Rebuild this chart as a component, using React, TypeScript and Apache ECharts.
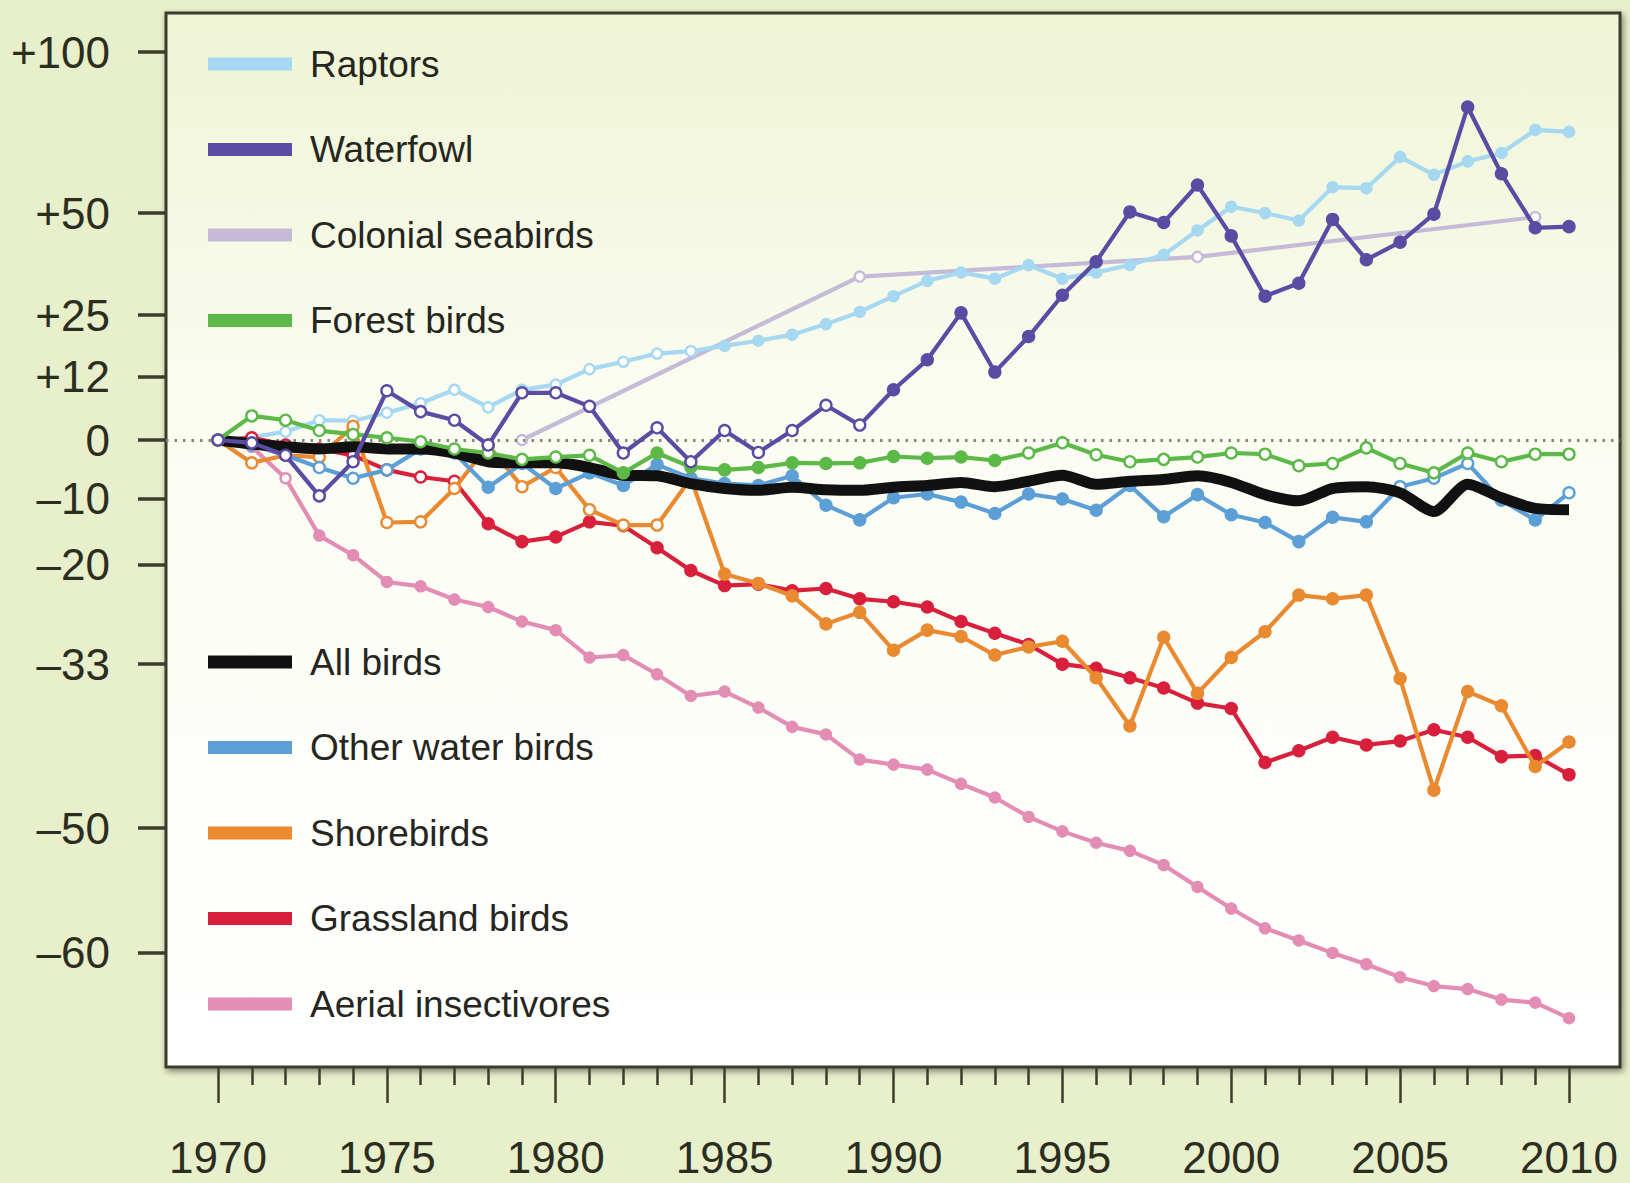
import React, { useEffect, useRef } from "react";
import * as echarts from "echarts";

// ---------- data (percent change since 1970) ----------
const years = [
  1970, 1971, 1972, 1973, 1974, 1975, 1976, 1977, 1978, 1979,
  1980, 1981, 1982, 1983, 1984, 1985, 1986, 1987, 1988, 1989,
  1990, 1991, 1992, 1993, 1994, 1995, 1996, 1997, 1998, 1999,
  2000, 2001, 2002, 2003, 2004, 2005, 2006, 2007, 2008, 2009, 2010,
];

const raptors = [
  0, 0.5, 1.5, 3.6, 3.5, 5.0, 6.8, 9.4, 6.0, 9.4,
  10.4, 13.5, 15.0, 16.7, 17.2, 18.3, 19.4, 20.7, 23.0, 25.7,
  29.3, 32.9, 34.9, 33.4, 36.7, 33.4, 34.9, 36.7, 39.2, 45.4,
  51.7, 50.0, 48.0, 57.1, 56.8, 65.8, 60.6, 64.5, 67.0, 74.0, 73.4,
];
const waterfowl = [
  0, -0.5, -2.7, -9.5, -3.8, 9.2, 5.2, 3.6, -0.9, 8.8,
  8.8, 6.2, -2.3, 2.2, -3.8, 1.7, -2.2, 1.7, 6.4, 2.7,
  9.4, 15.4, 25.5, 12.9, 20.3, 29.5, 37.5, 50.3, 47.5, 57.7,
  44.0, 29.3, 32.3, 48.3, 38.0, 42.4, 49.7, 81.3, 60.9, 46.1, 46.4,
];
const seabirdYears = [1979, 1989, 1999, 2009];
const seabirds = [0, 33.9, 38.7, 48.9];
const forest = [
  0, 4.4, 3.6, 1.7, 1.0, 0.4, -0.3, -1.6, -2.3, -3.4,
  -3.0, -2.7, -5.7, -2.3, -4.7, -5.2, -4.8, -4.0, -4.1, -4.0,
  -2.9, -3.2, -3.0, -3.6, -2.3, -0.5, -2.6, -3.8, -3.4, -3.0,
  -2.3, -2.5, -4.5, -4.1, -1.4, -4.1, -5.7, -2.3, -3.8, -2.5, -2.5,
];
const allBirds = [
  0, -0.7, -1.2, -1.6, -1.2, -1.6, -1.6, -2.3, -3.8, -4.0,
  -4.0, -4.8, -6.1, -6.2, -7.5, -8.3, -8.6, -8.1, -8.5, -8.6,
  -8.1, -7.8, -7.3, -8.0, -7.1, -6.1, -7.6, -7.1, -6.8, -6.2,
  -7.3, -9.3, -10.3, -8.3, -8.0, -9.0, -12.0, -7.6, -9.8, -11.5, -11.7,
];
const otherWater = [
  0, -0.9, -2.7, -4.8, -6.6, -5.2, -1.6, -2.3, -8.1, -4.1,
  -8.3, -5.7, -7.8, -4.3, -6.6, -7.5, -7.8, -6.2, -11.0, -13.3,
  -9.8, -9.2, -10.5, -12.3, -9.2, -10.0, -11.8, -7.8, -12.8, -9.3,
  -12.5, -13.7, -16.6, -12.9, -13.6, -8.0, -6.6, -4.1, -10.2, -13.3, -9.0,
];
const shorebirds = [
  0, -4.0, -2.7, -3.0, 2.5, -13.7, -13.6, -8.3, -0.9, -8.0,
  -4.8, -11.7, -14.1, -14.1, -6.6, -21.3, -22.6, -24.3, -28.0, -26.5,
  -31.3, -28.8, -29.6, -31.9, -30.9, -30.2, -34.6, -40.0, -29.7, -36.4,
  -32.2, -29.0, -24.2, -24.7, -24.2, -34.7, -46.5, -36.2, -37.8, -44.2, -41.7,
];
const grassland = [
  0, 0.4, -0.9, -1.6, -2.7, -5.2, -6.4, -7.1, -13.9, -16.6,
  -15.9, -13.6, -14.2, -17.5, -20.8, -22.9, -22.7, -23.6, -23.3, -24.7,
  -25.1, -25.8, -27.7, -29.2, -30.6, -33.0, -33.5, -34.6, -35.8, -37.5,
  -38.1, -43.8, -42.6, -41.2, -42.0, -41.6, -40.4, -41.2, -43.2, -43.1, -45.0,
];
const aerial = [
  0, -1.2, -6.6, -15.7, -18.6, -22.4, -23.0, -24.8, -25.8, -27.7,
  -28.8, -32.2, -31.9, -34.2, -36.7, -36.2, -38.0, -40.1, -40.9, -43.5,
  -44.0, -44.5, -45.9, -47.2, -49.0, -50.3, -51.3, -52.0, -53.2, -55.0,
  -56.7, -58.2, -59.1, -60.0, -60.8, -61.7, -62.3, -62.5, -63.2, -63.4, -64.4,
];

const yTickPercents = [100, 50, 25, 12, 0, -10, -20, -33, -50, -60];
const yTickLabels = ["+100", "+50", "+25", "+12", "0", "\u201310", "\u201320", "\u201333", "\u201350", "\u201360"];
const xMajorTicks = [1970, 1975, 1980, 1985, 1990, 1995, 2000, 2005, 2010];

const legendTop = ["Raptors", "Waterfowl", "Colonial seabirds", "Forest birds"];
const legendBottom = ["All birds", "Other water birds", "Shorebirds", "Grassland birds", "Aerial insectivores"];

// ---------- helpers ----------
const toLog = (p: number) => Math.log2(1 + p / 100);

const AXIS_COLOR = "#3b3e2c";
const LABEL_FONT = '"Liberation Sans", Arial, sans-serif';
const TEXT_FONT = '"Liberation Sans", Arial, sans-serif';

function inRanges(y: number, ranges: [number, number][]) {
  return ranges.some(([a, b]) => y >= a && y <= b);
}

function makeSeries(
  name: string,
  color: string,
  xs: number[],
  values: number[],
  hollow: [number, number][],
  z: number,
  extra: any = {}
) {
  return {
    name,
    type: "line",
    z,
    xAxisIndex: 0,
    yAxisIndex: 0,
    symbol: "circle",
    symbolSize: 11,
    showSymbol: true,
    lineStyle: { color, width: 4.2 },
    itemStyle: { color, borderColor: color, borderWidth: 2 },
    emphasis: { disabled: true },
    data: values.map((p, i) => ({
      value: [xs[i], toLog(p)],
      itemStyle: {
        color: inRanges(xs[i], hollow) ? "#ffffff" : color,
        borderColor: color,
        borderWidth: 2.4,
      },
    })),
    ...extra,
  };
}

export default function App() {
  const ref = useRef<HTMLDivElement>(null);

  useEffect(() => {
    if (!ref.current) return;
    const chart = echarts.init(ref.current, null, { renderer: "svg" });

    const gridTop = 13;
    const gridBottomPx = 1067;
    const zeroPx = 440;
    const unitPx = 388;
    const yMax = (zeroPx - gridTop) / unitPx;
    const yMin = -(gridBottomPx - zeroPx) / unitPx;

    const gridLeft = 166;
    const gridRight = 1620;
    const x1970 = 218;
    const x2010 = 1569;
    const pxPerYear = (x2010 - x1970) / 40;
    const xMin = 1970 - (x1970 - gridLeft) / pxPerYear;
    const xMax = 2010 + (gridRight - x2010) / pxPerYear;

    const yTickValues = yTickPercents.map(toLog);
    const minorYears = years.filter((y) => xMajorTicks.indexOf(y) < 0);

    const labelFor = (v: number) => {
      let best = 0;
      let bd = Infinity;
      yTickValues.forEach((t, i) => {
        const d = Math.abs(t - v);
        if (d < bd) {
          bd = d;
          best = i;
        }
      });
      return yTickLabels[best];
    };

    const legendCommon = {
      orient: "vertical",
      left: 208,
      padding: 0,
      icon: "rect",
      itemWidth: 84,
      itemHeight: 13,
      itemGap: 45.5,
      selectedMode: false,
      itemStyle: { borderWidth: 0 },
      textStyle: {
        fontFamily: TEXT_FONT,
        fontSize: 37,
        color: "#26261f",
        lineHeight: 40,
        padding: [0, 0, 0, 13],
      },
    };

    const option: any = {
      animation: false,
      backgroundColor: "#e8efcb",
      grid: {
        left: gridLeft,
        top: gridTop,
        width: gridRight - gridLeft,
        height: gridBottomPx - gridTop,
        outerBoundsMode: "none",
        containLabel: false,
        show: true,
        borderColor: AXIS_COLOR,
        borderWidth: 3,
        shadowColor: "rgba(0,0,0,0.45)",
        shadowBlur: 6,
        shadowOffsetX: 2,
        shadowOffsetY: 3,
        backgroundColor: new echarts.graphic.LinearGradient(0, 0, 0, 1, [
          { offset: 0, color: "#eef4d4" },
          { offset: 0.4, color: "#fbfdf3" },
          { offset: 1, color: "#ffffff" },
        ]),
      },
      legend: [
        { ...legendCommon, top: 44, data: legendTop },
        { ...legendCommon, top: 642, data: legendBottom },
      ],
      xAxis: [
        {
          type: "value",
          min: xMin,
          max: xMax,
          position: "bottom",
          axisLine: { show: false, onZero: false },
          splitLine: { show: false },
          axisTick: {
            show: true,
            length: 36,
            customValues: xMajorTicks,
            lineStyle: { color: AXIS_COLOR, width: 2.5 },
          },
          axisLabel: {
            show: true,
            customValues: xMajorTicks,
            margin: 68,
            fontFamily: LABEL_FONT,
            fontSize: 44,
            color: "#2b2e1f",
            formatter: (v: number) => String(Math.round(v)),
          },
        },
        {
          type: "value",
          min: xMin,
          max: xMax,
          position: "bottom",
          axisLine: { show: false, onZero: false },
          splitLine: { show: false },
          axisTick: {
            show: true,
            length: 18,
            customValues: minorYears,
            lineStyle: { color: AXIS_COLOR, width: 2.5 },
          },
          axisLabel: { show: false },
        },
      ],
      yAxis: {
        type: "value",
        min: yMin,
        max: yMax,
        axisLine: { show: false, onZero: false },
        splitLine: { show: false },
        axisTick: {
          show: true,
          length: 28,
          customValues: yTickValues,
          lineStyle: { color: AXIS_COLOR, width: 3.5 },
        },
        axisLabel: {
          show: true,
          customValues: yTickValues,
          margin: 56,
          fontFamily: LABEL_FONT,
          fontSize: 44,
          color: "#2b2e1f",
          formatter: (v: number) => labelFor(v),
        },
      },
      series: [
        makeSeries("Colonial seabirds", "#c5bbd9", seabirdYears, seabirds, [[1970, 2010]], 2, {
          symbolSize: 10,
          markLine: {
            silent: true,
            symbol: ["none", "none"],
            label: { show: false },
            lineStyle: { color: "#85877a", type: [2.5, 6], width: 3 },
            data: [{ yAxis: 0 }],
            animation: false,
          },
        }),
        makeSeries("Raptors", "#a6d8f1", years, raptors, [[1970, 1984]], 3, { symbolSize: 10 }),
        makeSeries("Aerial insectivores", "#e38db5", years, aerial, [[1970, 1972]], 4, { symbolSize: 10 }),
        makeSeries("Grassland birds", "#d81f3c", years, grassland, [[1970, 1977]], 5),
        makeSeries("Shorebirds", "#e98a31", years, shorebirds, [[1970, 1984]], 6),
        makeSeries(
          "Other water birds",
          "#5b9fd6",
          years,
          otherWater,
          [[1970, 1977], [2005, 2007], [2010, 2010]],
          7
        ),
        {
          name: "All birds",
          type: "line",
          z: 8,
          showSymbol: false,
          symbol: "none",
          smooth: 0.25,
          lineStyle: { color: "#111111", width: 11 },
          itemStyle: { color: "#111111" },
          emphasis: { disabled: true },
          data: allBirds.map((p, i) => [years[i], toLog(p)]),
        },
        makeSeries("Forest birds", "#5cb947", years, forest, [[1970, 1981], [1994, 2010]], 9),
        makeSeries("Waterfowl", "#5a4ba3", years, waterfowl, [[1970, 1989]], 10),
      ],
    };

    chart.setOption(option);
    return () => {
      chart.dispose();
    };
  }, []);

  return (
    <div
      ref={ref}
      style={{ position: "fixed", left: 0, top: 0, width: 1630, height: 1183 }}
    />
  );
}
